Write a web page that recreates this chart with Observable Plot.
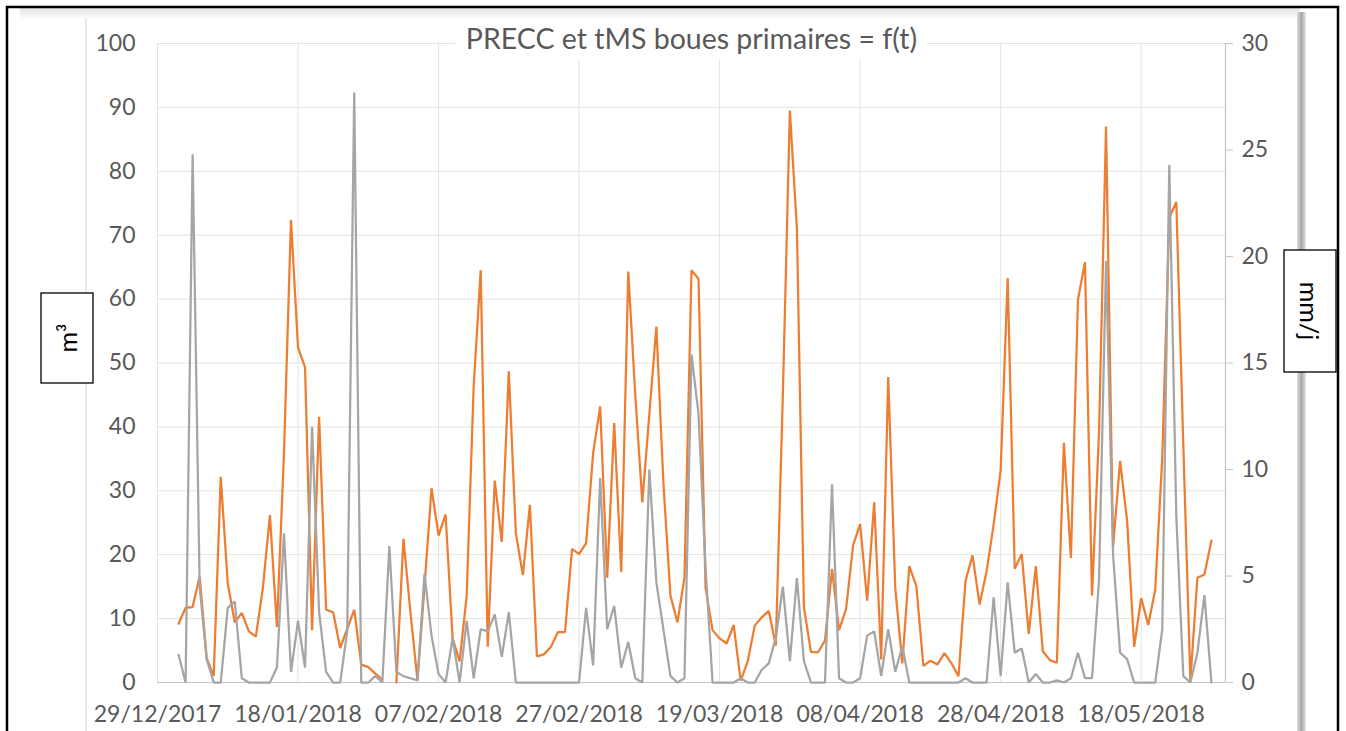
<!DOCTYPE html>
<html>
<head>
<meta charset="utf-8">
<script src="https://cdn.jsdelivr.net/npm/d3@7"></script>
<script src="https://cdn.jsdelivr.net/npm/@observablehq/plot@0.6"></script>
<style>
  html, body { margin: 0; padding: 0; background: #fff; }
  #chart { position: relative; width: 1346px; height: 731px; overflow: hidden; }
</style>
</head>
<body>
<div id="chart"></div>
<script>
// ---- Data (daily, starting 01/01/2018) ----
const firstDay = "2018-01-01";
const axisStart = "2017-12-29";
const axisEnd = "2018-05-30";
const xTickLabels = ["29/12/2017","18/01/2018","07/02/2018","27/02/2018","19/03/2018","08/04/2018","28/04/2018","18/05/2018"];
const leftTicks = [0,10,20,30,40,50,60,70,80,90,100];
const rightTicks = [0,5,10,15,20,25,30];
const title = "PRECC et tMS boues primaires = f(t)";
const leftUnit = "m³";
const rightUnit = "mm/j";

// tMS boues primaires (m³) – orange, left axis (null = missing day)
const tms = [
  9.2, 11.7, 11.8, 16.6, 3.8, 1.0, 32.2, 15.5, 9.4, 10.9,
  8.0, 7.2, 14.8, 26.2, 8.7, 35.9, 72.4, 52.4, 49.3, 8.2,
  41.6, 11.4, 11.0, 5.4, 8.4, 11.4, 2.8, 2.4, 1.4, 0.5,
  null, 0, 22.5, 11, 0.3, 15, 30.4, 23.0, 26.3, 6.9,
  3.3, 13.5, 46.4, 64.5, 5.6, 31.6, 22.0, 48.7, 23.4, 16.8,
  27.8, 4.1, 4.4, 5.6, 7.9, 7.9, 20.9, 20.1, 21.8, 35.9,
  43.2, 16.4, 40.6, 17.3, 64.3, 45, 28.2, 42, 55.7, 31.3,
  13.6, 9.4, 16.4, 64.5, 63.2, 14.8, 8.2, 6.9, 6.1, 9.0,
  0.3, 3.3, 8.9, 10.2, 11.2, 5.8, 45, 89.5, 71.1, 11.8,
  4.8, 4.7, 6.6, 17.8, 8.2, 11.5, 21.5, 24.8, 12.8, 28.2,
  3.6, 47.8, 14.8, 3.0, 18.2, 15.1, 2.6, 3.4, 2.8, 4.6,
  3.0, 1.0, 15.9, 19.9, 12.2, 17.4, 24.7, 33.2, 63.3, 17.8,
  20.1, 7.6, 18.2, 4.9, 3.5, 3.1, 37.5, 19.5, 59.9, 65.8,
  13.6, 39.1, 87.0, 21.3, 34.7, 25.3, 5.6, 13.2, 9.0, 14.5,
  35.2, 72.7, 75.2, 37, 0.3, 16.4, 16.9, 22.2
];

// PRECC (mm/j) – grey, right axis
const precc = [
  1.3, 0, 24.8, 4.5, 1.1, 0, 0, 3.5, 3.8, 0.2,
  0, 0, 0, 0, 0.7, 7.0, 0.5, 2.9, 0.7, 12.0,
  3.3, 0.5, 0, 0, 2.4, 27.7, 0, 0, 0.3, 0,
  6.4, 0.5, 0.3, 0.2, 0.1, 5.1, 2.2, 0.4, 0, 2.1,
  0, 2.9, 0.2, 2.5, 2.4, 3.2, 1.2, 3.3, 0, 0,
  0, 0, 0, 0, 0, 0, 0, 0, 3.5, 0.8,
  9.6, 2.5, 3.6, 0.7, 1.9, 0.2, 0, 10.0, 4.7, 2.5,
  0.3, 0, 0.2, 15.4, 12.6, 5.4, 0, 0, 0, 0,
  0.2, 0, 0, 0.6, 0.9, 2.1, 4.5, 1.0, 4.9, 1.0,
  0, 0, 0, 9.3, 0.2, 0, 0, 0.2, 2.2, 2.4,
  0.3, 2.5, 0.5, 1.7, 0, 0, 0, 0, 0, 0,
  0, 0, 0.2, 0, 0, 0, 4.0, 0.3, 4.7, 1.4,
  1.6, 0, 0.4, 0, 0, 0.1, 0, 0.2, 1.4, 0.2,
  0.2, 4.8, 19.8, 6.0, 1.4, 1.1, 0, 0, 0, 0,
  2.5, 24.3, 7.8, 0.3, 0, 1.4, 4.1, 0
];

// ---- Build table ----
const parseDMY = d3.utcParse("%d/%m/%Y");
const d0 = new Date(firstDay + "T00:00:00Z");
const data = tms.map((v, i) => ({
  date: d3.utcDay.offset(d0, i),
  tms: v,
  precc: precc[i]
}));
const xTicks = xTickLabels.map(parseDMY);
const xDomain = [new Date(axisStart + "T00:00:00Z"), new Date(axisEnd + "T00:00:00Z")];
const ratio = 100 / 30; // right axis (mm/j) mapped onto left axis (m³)

const chart = Plot.plot({
  width: 1346,
  height: 731,
  marginLeft: 157,
  marginRight: 121,
  marginTop: 43,
  marginBottom: 49,
  style: { fontFamily: "Lato, 'Open Sans', sans-serif", fontSize: "23px", color: "#595959", background: "transparent", overflow: "visible" },
  x: { type: "utc", domain: xDomain },
  y: { domain: [0, 100] },
  marks: [
    Plot.gridY({ ticks: leftTicks, stroke: "#e3e3e3", strokeOpacity: 1, strokeWidth: 1 }),
    Plot.gridX({ ticks: xTicks, stroke: "#e3e3e3", strokeOpacity: 1, strokeWidth: 1 }),
    Plot.ruleY([0], { stroke: "#c4c4c4", strokeWidth: 1.2 }),
    Plot.ruleX([xDomain[1]], { stroke: "#c4c4c4", strokeWidth: 1.2 }),
    Plot.axisY({ ticks: leftTicks, tickSize: 0, tickPadding: 22, label: null, fill: "#595959" }),
    Plot.axisY({ anchor: "right", ticks: rightTicks.map(t => t * ratio), tickFormat: d => String(Math.round(d / ratio)),
                 tickSize: 7, tickPadding: 9, label: null, stroke: "#c4c4c4", fill: "#595959" }),
    Plot.axisX({ ticks: xTicks, tickFormat: d3.utcFormat("%d/%m/%Y"), tickSize: 0, tickPadding: 23, label: null, fill: "#595959" }),
    Plot.lineY(data, { x: "date", y: "tms", stroke: "#ed7d31", strokeWidth: 2.25, strokeLinejoin: "miter" }),
    Plot.lineY(data, { x: "date", y: d => d.precc * ratio, stroke: "#a5a5a5", strokeWidth: 2.25, strokeLinejoin: "miter" }),
    Plot.text([title], { frameAnchor: "top", lineAnchor: "middle", dy: -4, fontSize: 28.5, fill: "#595959", text: d => d })
  ]
});

const host = document.getElementById("chart");

// background decorations (frame, shadows) drawn under the chart
const bg = d3.select(host).append("svg")
  .attr("width", 1346).attr("height", 731)
  .style("position", "absolute").style("left", 0).style("top", 0);
const defs = bg.append("defs");
const gr = defs.append("linearGradient").attr("id", "shadowR").attr("x1", 0).attr("x2", 1);
gr.append("stop").attr("offset", "0").attr("stop-color", "#dcdcdc");
gr.append("stop").attr("offset", "0.5").attr("stop-color", "#a8a8a8");
gr.append("stop").attr("offset", "1").attr("stop-color", "#e8e8e8");
const gt = defs.append("linearGradient").attr("id", "shadowT").attr("x1", 0).attr("x2", 0).attr("y1", 0).attr("y2", 1);
gt.append("stop").attr("offset", "0").attr("stop-color", "#e4e4e4");
gt.append("stop").attr("offset", "1").attr("stop-color", "#ffffff");
bg.append("rect").attr("x", 0).attr("y", 0).attr("width", 1346).attr("height", 731).attr("fill", "#fff");
bg.append("rect").attr("x", 20).attr("y", 8).attr("width", 1280).attr("height", 12).attr("fill", "url(#shadowT)");
bg.append("rect").attr("x", 1297).attr("y", 12).attr("width", 9).attr("height", 719).attr("fill", "url(#shadowR)");
bg.append("line").attr("x1", 86).attr("x2", 86).attr("y1", 18).attr("y2", 731).attr("stroke", "#d6d6d6").attr("stroke-width", 1.2);

chart.style.position = "absolute";
chart.style.left = "0px";
chart.style.top = "0px";
host.appendChild(chart);

// title background (hides the top gridline behind the title)
const svg = d3.select(chart);
const titleG = svg.selectAll("g").filter(function() { return d3.select(this).selectAll("text").size() === 1 && d3.select(this).text() === title; });
if (!titleG.empty()) {
  const bb = titleG.node().getBBox();
  svg.insert("rect", () => titleG.node())
    .attr("x", bb.x - 10).attr("y", bb.y - 2).attr("width", bb.width + 20).attr("height", bb.height + 4)
    .attr("fill", "#fff");
}

// overlay: outer black frame and unit boxes
const fg = d3.select(host).append("svg")
  .attr("width", 1346).attr("height", 731)
  .style("position", "absolute").style("left", 0).style("top", 0)
  .style("font-family", "Lato, 'Open Sans', sans-serif");
fg.append("path").attr("d", "M7,740 L7,7 L1338,7 L1338,740").attr("fill", "none").attr("stroke", "#000").attr("stroke-width", 2.5);

fg.append("rect").attr("x", 41).attr("y", 293).attr("width", 52).attr("height", 90)
  .attr("fill", "#fff").attr("stroke", "#000").attr("stroke-width", 1.3);
fg.append("text").attr("transform", "translate(67,338) rotate(-90)")
  .attr("text-anchor", "middle").attr("dominant-baseline", "central")
  .attr("font-size", 25).attr("fill", "#000").text(leftUnit);

fg.append("rect").attr("x", 1284).attr("y", 250).attr("width", 52).attr("height", 122)
  .attr("fill", "#fff").attr("stroke", "#000").attr("stroke-width", 1.3);
fg.append("text").attr("transform", "translate(1310,311) rotate(90)")
  .attr("text-anchor", "middle").attr("dominant-baseline", "central")
  .attr("font-size", 25).attr("fill", "#000").text(rightUnit);
</script>
</body>
</html>
